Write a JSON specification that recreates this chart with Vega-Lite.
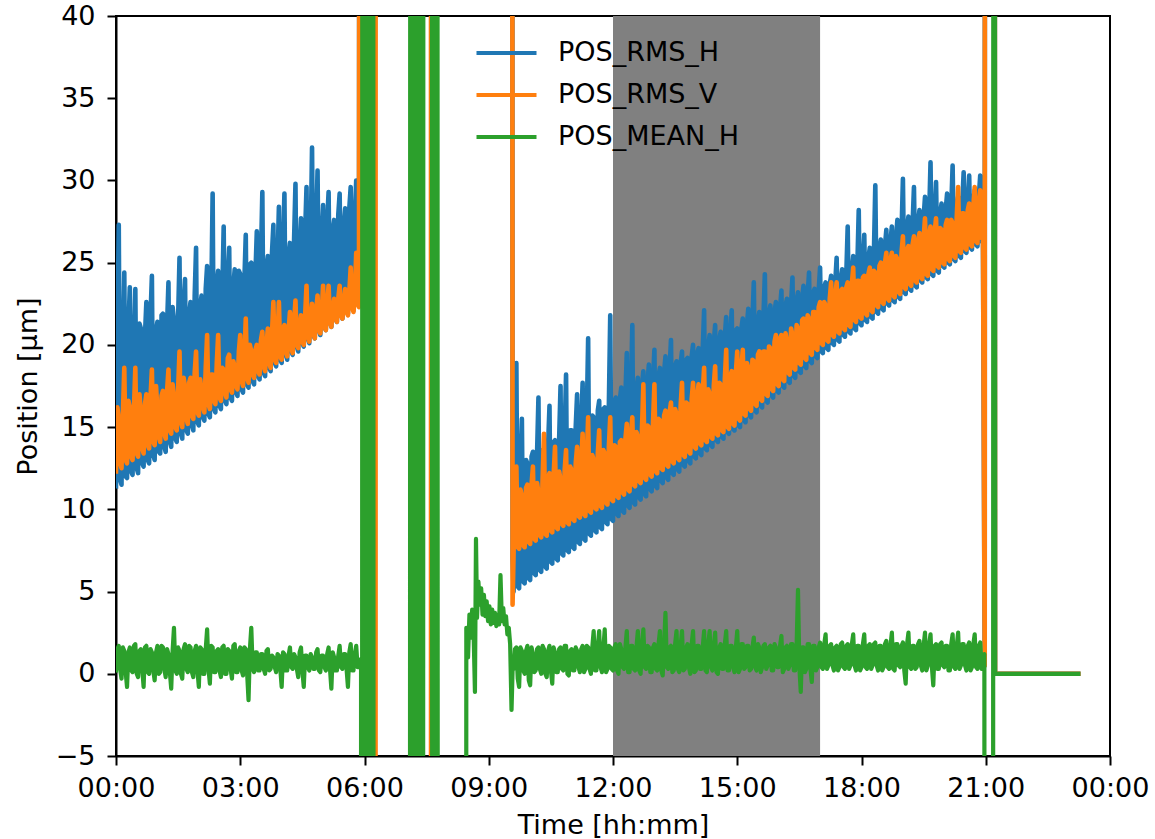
{
"$schema": "https://vega.github.io/schema/vega-lite/v6.json",
"width": 994, "height": 740,
"autosize": {"type": "none"},
"padding": {"left": 116, "top": 16, "right": 45, "bottom": 83},
"background": "white",
"config": {
  "view": {"stroke": "black", "strokeWidth": 2},
  "font": "DejaVu Sans",
  "axis": {"domainColor": "black", "domainWidth": 2, "tickColor": "black", "tickWidth": 2, "tickSize": 9, "labelFont": "DejaVu Sans", "labelFontSize": 27, "labelColor": "black", "titleFont": "DejaVu Sans", "titleFontSize": 27, "titleFontWeight": "normal", "titleColor": "black", "grid": false},
  "legend": {"labelFont": "DejaVu Sans", "labelFontSize": 27, "labelColor": "black", "labelLimit": 400}
},
"datasets": {
"band": [{"start": 720, "end": 1020}],
"series": [
{"t":0,"H":11.4,"V":12.3,"M":0.2},{"t":4,"H":27.3,"V":15.5,"M":1.7},{"t":8,"H":11.5,"V":12.5,"M":-0.3},{"t":12,"H":24.4,"V":18.6,"M":1.4},
{"t":16,"H":11.9,"V":12.8,"M":-0.8},{"t":20,"H":23.5,"V":16.2,"M":1.6},{"t":24,"H":12.1,"V":13.0,"M":0.1},{"t":28,"H":23.4,"V":18.6,"M":1.8},
{"t":32,"H":12.2,"V":13.2,"M":-0.2},{"t":36,"H":21.0,"V":15.9,"M":1.5},{"t":40,"H":12.6,"V":13.4,"M":-0.8},{"t":44,"H":22.6,"V":17.0,"M":1.7},
{"t":48,"H":12.8,"V":13.7,"M":0.0},{"t":52,"H":24.2,"V":18.5,"M":1.3},{"t":56,"H":13.0,"V":13.9,"M":-0.4},{"t":60,"H":21.4,"V":16.0,"M":1.7},
{"t":64,"H":13.4,"V":14.1,"M":0.1},{"t":68,"H":21.9,"V":17.2,"M":1.6},{"t":72,"H":13.5,"V":14.3,"M":-0.2},{"t":76,"H":23.8,"V":18.5,"M":1.2},
{"t":80,"H":13.8,"V":14.6,"M":-0.9},{"t":84,"H":21.5,"V":16.8,"M":2.8},{"t":88,"H":14.1,"V":14.8,"M":0.0},{"t":92,"H":25.3,"V":19.6,"M":1.4},
{"t":96,"H":14.3,"V":15.0,"M":-0.3},{"t":100,"H":24.0,"V":17.4,"M":1.8},{"t":104,"H":14.6,"V":15.2,"M":0.1},{"t":108,"H":22.6,"V":18.0,"M":1.6},
{"t":112,"H":14.8,"V":15.5,"M":-0.2},{"t":116,"H":25.9,"V":19.6,"M":1.7},{"t":120,"H":15.1,"V":15.7,"M":-0.8},{"t":124,"H":23.0,"V":17.1,"M":1.5},
{"t":128,"H":15.4,"V":15.9,"M":0.0},{"t":132,"H":24.8,"V":20.6,"M":2.7},{"t":136,"H":15.6,"V":16.1,"M":-0.6},{"t":140,"H":29.2,"V":18.2,"M":1.6},
{"t":144,"H":15.9,"V":16.4,"M":0.1},{"t":148,"H":24.5,"V":20.6,"M":1.5},{"t":152,"H":16.1,"V":16.6,"M":-0.2},{"t":156,"H":27.2,"V":18.5,"M":1.7},
{"t":160,"H":16.4,"V":16.8,"M":0.0},{"t":164,"H":25.9,"V":19.4,"M":1.4},{"t":168,"H":16.6,"V":17.1,"M":-0.3},{"t":172,"H":24.6,"V":18.6,"M":1.8},
{"t":176,"H":16.9,"V":17.3,"M":0.1},{"t":180,"H":24.3,"V":20.6,"M":1.6},{"t":184,"H":17.1,"V":17.5,"M":-0.1},{"t":188,"H":26.7,"V":21.6,"M":1.5},
{"t":192,"H":17.4,"V":17.7,"M":-1.6},{"t":196,"H":25.0,"V":19.6,"M":2.8},{"t":200,"H":17.6,"V":18.0,"M":0.1},{"t":204,"H":26.9,"V":20.0,"M":1.3},
{"t":208,"H":17.9,"V":18.2,"M":0.2},{"t":212,"H":29.3,"V":20.8,"M":1.2},{"t":216,"H":18.1,"V":18.4,"M":0.0},{"t":220,"H":25.4,"V":21.0,"M":1.5},
{"t":224,"H":18.4,"V":18.6,"M":0.3},{"t":228,"H":27.3,"V":22.6,"M":1.0},{"t":232,"H":18.7,"V":18.9,"M":0.1},{"t":236,"H":28.4,"V":22.6,"M":1.1},
{"t":240,"H":18.9,"V":19.1,"M":-0.8},{"t":244,"H":29.2,"V":21.2,"M":1.2},{"t":248,"H":19.1,"V":19.3,"M":0.2},{"t":252,"H":26.2,"V":22.0,"M":1.6},
{"t":256,"H":19.4,"V":19.5,"M":0.3},{"t":260,"H":29.8,"V":22.7,"M":1.0},{"t":264,"H":19.6,"V":19.8,"M":-0.2},{"t":268,"H":27.7,"V":21.8,"M":1.6},
{"t":272,"H":19.9,"V":20.0,"M":-0.8},{"t":276,"H":29.6,"V":23.6,"M":1.1},{"t":280,"H":20.1,"V":20.2,"M":0.2},{"t":284,"H":32.0,"V":22.5,"M":1.0},
{"t":288,"H":20.4,"V":20.4,"M":0.3},{"t":292,"H":30.6,"V":23.0,"M":1.5},{"t":296,"H":20.6,"V":20.7,"M":0.1},{"t":300,"H":28.5,"V":23.6,"M":1.1},
{"t":304,"H":20.9,"V":20.9,"M":0.2},{"t":308,"H":29.3,"V":23.6,"M":1.6},{"t":312,"H":21.1,"V":21.1,"M":-0.9},{"t":316,"H":27.6,"V":22.8,"M":1.0},
{"t":320,"H":21.4,"V":21.4,"M":0.2},{"t":324,"H":29.2,"V":23.6,"M":1.7},{"t":328,"H":21.6,"V":21.6,"M":0.3},{"t":332,"H":28.3,"V":23.4,"M":1.2},
{"t":336,"H":21.9,"V":21.8,"M":-0.8},{"t":340,"H":29.6,"V":24.7,"M":1.8},{"t":344,"H":22.1,"V":22.0,"M":0.2},{"t":348,"H":30.0,"V":25.6,"M":1.7},
{"t":352,"H":22.4,"V":22.3,"M":0.4},
{"t":2,"H":20.5,"V":16.2,"M":1.5},{"t":10,"H":19.8,"V":15.8,"M":1.6},{"t":18,"H":21.0,"V":16.6,"M":1.3},{"t":26,"H":20.2,"V":16.1,"M":1.7},
{"t":34,"H":21.3,"V":17.0,"M":1.4},{"t":42,"H":20.6,"V":16.4,"M":1.6},{"t":50,"H":21.7,"V":16.8,"M":1.5},{"t":58,"H":20.9,"V":17.5,"M":1.3},
{"t":66,"H":21.8,"V":16.9,"M":1.7},{"t":74,"H":21.2,"V":17.2,"M":1.5},{"t":82,"H":22.3,"V":17.6,"M":1.4},{"t":90,"H":21.6,"V":17.3,"M":1.6},
{"t":98,"H":22.6,"V":18.0,"M":1.5},{"t":106,"H":21.9,"V":17.7,"M":1.7},{"t":114,"H":23.0,"V":18.3,"M":1.4},{"t":122,"H":22.4,"V":17.9,"M":1.6},
{"t":130,"H":23.4,"V":18.6,"M":1.5},{"t":138,"H":22.7,"V":18.2,"M":1.7},{"t":146,"H":23.8,"V":18.9,"M":1.4},{"t":154,"H":23.1,"V":18.6,"M":1.6},
{"t":162,"H":24.2,"V":19.2,"M":1.5},{"t":170,"H":23.6,"V":19.0,"M":1.7},{"t":178,"H":24.5,"V":19.6,"M":1.4},{"t":186,"H":23.9,"V":19.3,"M":1.6},
{"t":194,"H":24.9,"V":20.0,"M":1.5},{"t":202,"H":24.3,"V":19.7,"M":1.3},{"t":210,"H":25.3,"V":20.3,"M":1.2},{"t":218,"H":24.7,"V":20.0,"M":1.4},
{"t":226,"H":25.6,"V":20.7,"M":1.1},{"t":234,"H":25.0,"V":20.4,"M":1.2},{"t":242,"H":26.0,"V":21.0,"M":1.3},{"t":250,"H":25.4,"V":20.8,"M":1.1},
{"t":258,"H":26.4,"V":21.4,"M":1.2},{"t":266,"H":25.8,"V":21.1,"M":1.3},{"t":274,"H":26.8,"V":21.8,"M":1.1},{"t":282,"H":26.2,"V":21.5,"M":1.2},
{"t":290,"H":27.2,"V":22.1,"M":1.3},{"t":298,"H":26.6,"V":21.9,"M":1.1},{"t":306,"H":27.5,"V":22.5,"M":1.2},{"t":314,"H":27.0,"V":22.2,"M":1.3},
{"t":322,"H":27.9,"V":22.8,"M":1.1},{"t":330,"H":27.3,"V":22.6,"M":1.2},{"t":338,"H":28.3,"V":23.2,"M":1.3},{"t":346,"H":27.7,"V":23.0,"M":1.2},
{"t":6,"H":11.8,"V":12.8,"M":0.3},{"t":14,"H":12.0,"V":13.0,"M":0.1},{"t":22,"H":12.3,"V":13.2,"M":0.2},{"t":30,"H":12.5,"V":13.4,"M":0.0},
{"t":38,"H":12.8,"V":13.7,"M":0.3},{"t":46,"H":13.0,"V":13.9,"M":0.1},{"t":54,"H":13.3,"V":14.1,"M":0.2},{"t":62,"H":13.5,"V":14.4,"M":0.0},
{"t":70,"H":13.8,"V":14.6,"M":0.3},{"t":78,"H":14.1,"V":14.8,"M":0.1},{"t":86,"H":14.3,"V":15.0,"M":0.2},{"t":94,"H":14.6,"V":15.3,"M":0.0},
{"t":102,"H":14.8,"V":15.5,"M":0.3},{"t":110,"H":15.1,"V":15.7,"M":0.1},{"t":118,"H":15.3,"V":15.9,"M":0.2},{"t":126,"H":15.6,"V":16.2,"M":0.0},
{"t":134,"H":15.8,"V":16.4,"M":0.3},{"t":142,"H":16.1,"V":16.6,"M":0.1},{"t":150,"H":16.3,"V":16.8,"M":0.2},{"t":158,"H":16.6,"V":17.1,"M":0.0},
{"t":166,"H":16.8,"V":17.3,"M":0.3},{"t":174,"H":17.1,"V":17.5,"M":0.1},{"t":182,"H":17.3,"V":17.8,"M":0.2},{"t":190,"H":17.6,"V":18.0,"M":0.0},
{"t":198,"H":17.8,"V":18.2,"M":0.3},{"t":206,"H":18.1,"V":18.4,"M":0.2},{"t":214,"H":18.3,"V":18.7,"M":0.3},{"t":222,"H":18.6,"V":18.9,"M":0.2},
{"t":230,"H":18.9,"V":19.1,"M":0.4},{"t":238,"H":19.1,"V":19.3,"M":0.3},{"t":246,"H":19.4,"V":19.6,"M":0.2},{"t":254,"H":19.6,"V":19.8,"M":0.4},
{"t":262,"H":19.9,"V":20.0,"M":0.3},{"t":270,"H":20.1,"V":20.2,"M":0.2},{"t":278,"H":20.4,"V":20.5,"M":0.4},{"t":286,"H":20.6,"V":20.7,"M":0.3},
{"t":294,"H":20.9,"V":20.9,"M":0.2},{"t":302,"H":21.1,"V":21.1,"M":0.4},{"t":310,"H":21.4,"V":21.4,"M":0.3},{"t":318,"H":21.6,"V":21.6,"M":0.2},
{"t":326,"H":21.9,"V":21.8,"M":0.4},{"t":334,"H":22.1,"V":22.0,"M":0.3},{"t":342,"H":22.4,"V":22.3,"M":0.2},{"t":350,"H":22.6,"V":22.5,"M":0.4},
{"t":354.5,"H":200,"V":200},{"t":355,"M":0.9},{"t":355.6,"M":-200},{"t":357.6,"M":200},{"t":359.6,"M":-200},{"t":361.6,"M":200},{"t":363.6,"M":-200},
{"t":368,"M":200},{"t":370,"M":-200},{"t":372,"M":200},{"t":374,"M":-200},
{"t":374.5,"V":200},{"t":375.5,"V":-200},{"t":376.5,"V":200},
{"t":425,"M":-200},{"t":427,"M":200},{"t":429,"M":-200},{"t":431,"M":200},{"t":433,"M":-200},{"t":436,"M":-200},{"t":438,"M":200},{"t":440,"M":-200},{"t":442,"M":200},{"t":444,"M":-200},{"t":446,"M":200},
{"t":433.8,"V":200},{"t":434.6,"V":-200},{"t":435.4,"V":200},
{"t":456,"V":200},{"t":456.8,"V":-200},{"t":457.6,"V":200},
{"t":457,"M":200},{"t":459,"M":-200},{"t":461,"M":200},{"t":463,"M":-200},{"t":465,"M":200},{"t":467,"M":-200},
{"t":506,"M":-200},{"t":507.5,"M":2.8},{"t":510,"M":1.0},{"t":512,"M":3.6},{"t":514,"M":2.2},{"t":516,"M":3.9},{"t":518,"M":2.6},{"t":520,"M":-1.1},
{"t":521.5,"M":8.2},{"t":523,"M":3.4},{"t":525,"M":5.6},{"t":527,"M":4.2},{"t":529,"M":5.2},{"t":531,"M":3.6},{"t":533,"M":4.8},{"t":535,"M":3.5},
{"t":537,"M":4.4},{"t":539,"M":3.2},{"t":541,"M":4.1},{"t":543,"M":3.0},{"t":545,"M":3.9},{"t":547,"M":3.1},{"t":549,"M":3.7},{"t":551,"M":2.9},
{"t":553,"M":3.6},{"t":555,"M":3.0},{"t":557,"M":6.0},{"t":559,"M":3.2},{"t":561,"M":4.0},{"t":563,"M":3.0},{"t":565,"M":3.5},{"t":567,"M":2.4},
{"t":569,"M":2.8},{"t":571,"M":1.8},{"t":573,"H":200,"V":200,"M":-2.2},{"t":574.5,"H":7.0,"V":4.2},{"t":575,"M":1.0},
{"t":576,"H":5.0,"V":7.4,"M":0.3},{"t":580,"H":18.9,"V":12.6,"M":1.6},{"t":584,"H":5.2,"V":7.6,"M":-0.8},{"t":588,"H":15.5,"V":10.8,"M":1.4},
{"t":592,"H":5.5,"V":7.7,"M":0.0},{"t":596,"H":12.8,"V":11.5,"M":1.7},{"t":600,"H":5.7,"V":7.9,"M":-0.7},{"t":604,"H":13.5,"V":12.6,"M":1.2},
{"t":608,"H":6.0,"V":8.1,"M":0.2},{"t":612,"H":16.8,"V":11.0,"M":1.6},{"t":616,"H":6.2,"V":8.3,"M":0.0},{"t":620,"H":13.6,"V":14.6,"M":1.5},
{"t":624,"H":6.4,"V":8.4,"M":-0.2},{"t":628,"H":16.3,"V":12.2,"M":1.7},{"t":632,"H":6.7,"V":8.6,"M":-0.6},{"t":636,"H":14.2,"V":13.8,"M":1.3},
{"t":640,"H":6.9,"V":8.8,"M":0.1},{"t":644,"H":17.5,"V":11.8,"M":1.6},{"t":648,"H":7.2,"V":9.0,"M":0.2},{"t":652,"H":18.2,"V":13.6,"M":1.7},
{"t":656,"H":7.4,"V":9.1,"M":-0.1},{"t":660,"H":14.8,"V":12.4,"M":1.5},{"t":664,"H":7.6,"V":9.3,"M":0.2},{"t":668,"H":17.0,"V":13.8,"M":1.4},
{"t":672,"H":7.9,"V":9.5,"M":0.1},{"t":676,"H":17.7,"V":14.6,"M":1.7},{"t":680,"H":8.1,"V":9.6,"M":0.3},{"t":684,"H":20.4,"V":15.6,"M":1.6},
{"t":688,"H":8.4,"V":9.8,"M":0.0},{"t":692,"H":15.6,"V":13.0,"M":2.6},{"t":696,"H":8.6,"V":10.0,"M":0.2},{"t":700,"H":16.6,"V":14.8,"M":2.6},
{"t":704,"H":8.8,"V":10.1,"M":0.1},{"t":708,"H":16.2,"V":13.4,"M":2.7},{"t":712,"H":9.1,"V":10.3,"M":0.3},{"t":716,"H":21.8,"V":15.6,"M":1.6},
{"t":720,"H":9.3,"V":10.5,"M":0.2},{"t":724,"H":16.8,"V":13.8,"M":1.8},{"t":728,"H":9.6,"V":10.7,"M":0.0},{"t":732,"H":17.4,"V":14.2,"M":1.5},
{"t":736,"H":9.8,"V":10.9,"M":0.3},{"t":740,"H":19.5,"V":15.2,"M":2.6},{"t":744,"H":10.1,"V":11.1,"M":0.1},{"t":748,"H":21.2,"V":15.6,"M":1.7},
{"t":752,"H":10.3,"V":11.4,"M":0.2},{"t":756,"H":18.0,"V":14.4,"M":2.6},{"t":760,"H":10.6,"V":11.6,"M":0.0},{"t":764,"H":18.4,"V":17.6,"M":2.7},
{"t":768,"H":10.8,"V":11.8,"M":0.3},{"t":772,"H":18.8,"V":15.0,"M":1.6},{"t":776,"H":11.1,"V":12.0,"M":0.1},{"t":780,"H":19.7,"V":17.6,"M":1.8},
{"t":784,"H":11.3,"V":12.2,"M":0.2},{"t":788,"H":18.6,"V":15.4,"M":2.6},{"t":792,"H":11.6,"V":12.4,"M":-0.1},{"t":796,"H":19.3,"V":16.0,"M":3.7},
{"t":800,"H":11.8,"V":12.6,"M":0.3},{"t":804,"H":20.3,"V":16.5,"M":1.7},{"t":808,"H":12.1,"V":12.8,"M":0.2},{"t":812,"H":19.0,"V":15.8,"M":2.6},
{"t":816,"H":12.3,"V":13.0,"M":0.1},{"t":820,"H":19.6,"V":17.7,"M":2.6},{"t":824,"H":12.6,"V":13.2,"M":0.3},{"t":828,"H":19.2,"V":16.4,"M":1.8},
{"t":832,"H":12.8,"V":13.4,"M":0.0},{"t":836,"H":20.0,"V":17.7,"M":2.6},{"t":840,"H":13.1,"V":13.7,"M":0.2},{"t":844,"H":19.8,"V":17.6,"M":1.7},
{"t":848,"H":13.3,"V":13.9,"M":0.3},{"t":852,"H":22.1,"V":18.6,"M":2.6},{"t":856,"H":13.6,"V":14.1,"M":0.1},{"t":860,"H":20.6,"V":17.0,"M":2.6},
{"t":864,"H":13.8,"V":14.3,"M":0.2},{"t":868,"H":21.2,"V":18.7,"M":2.5},{"t":872,"H":14.1,"V":14.5,"M":0.0},{"t":876,"H":20.8,"V":17.6,"M":1.8},
{"t":880,"H":14.3,"V":14.7,"M":0.3},{"t":884,"H":21.7,"V":19.7,"M":2.6},{"t":888,"H":14.6,"V":14.9,"M":0.2},{"t":892,"H":22.1,"V":18.4,"M":1.7},
{"t":896,"H":14.8,"V":15.1,"M":0.1},{"t":900,"H":21.0,"V":19.6,"M":2.6},{"t":904,"H":15.0,"V":15.4,"M":0.3},{"t":908,"H":21.6,"V":19.7,"M":1.8},
{"t":912,"H":15.3,"V":15.7,"M":0.4},{"t":916,"H":22.2,"V":18.6,"M":1.7},{"t":920,"H":15.6,"V":16.0,"M":0.3},{"t":924,"H":23.8,"V":19.0,"M":2.2},
{"t":928,"H":15.9,"V":16.3,"M":0.2},{"t":932,"H":22.0,"V":19.6,"M":1.6},{"t":936,"H":16.2,"V":16.6,"M":0.4},{"t":940,"H":24.3,"V":19.6,"M":1.8},
{"t":944,"H":16.5,"V":16.9,"M":0.5},{"t":948,"H":22.4,"V":19.8,"M":1.7},{"t":952,"H":16.8,"V":17.2,"M":0.2},{"t":956,"H":22.6,"V":20.6,"M":1.6},
{"t":960,"H":17.1,"V":17.5,"M":0.4},{"t":964,"H":23.3,"V":20.6,"M":2.3},{"t":968,"H":17.4,"V":17.8,"M":0.3},{"t":972,"H":22.8,"V":20.2,"M":1.7},
{"t":976,"H":17.7,"V":18.2,"M":0.5},{"t":980,"H":24.1,"V":20.6,"M":1.8},{"t":984,"H":18.0,"V":18.5,"M":0.2},{"t":988,"H":23.2,"V":21.0,"M":5.1},
{"t":992,"H":18.3,"V":18.8,"M":-1.1},{"t":996,"H":23.6,"V":21.6,"M":1.6},{"t":1000,"H":18.6,"V":19.1,"M":0.3},{"t":1004,"H":24.4,"V":21.6,"M":1.8},
{"t":1008,"H":18.9,"V":19.4,"M":-0.5},{"t":1012,"H":23.4,"V":22.0,"M":1.7},{"t":1016,"H":19.2,"V":19.7,"M":0.4},{"t":1020,"H":24.7,"V":22.6,"M":1.9},
{"t":1024,"H":19.5,"V":20.0,"M":0.3},{"t":1028,"H":23.8,"V":22.4,"M":2.4},{"t":1032,"H":19.7,"V":20.2,"M":0.5},{"t":1036,"H":24.2,"V":23.8,"M":1.8},
{"t":1040,"H":20.0,"V":20.5,"M":0.2},{"t":1044,"H":25.3,"V":23.8,"M":1.7},{"t":1048,"H":20.2,"V":20.7,"M":0.4},{"t":1052,"H":24.6,"V":23.4,"M":1.9},
{"t":1056,"H":20.5,"V":20.9,"M":0.3},{"t":1060,"H":27.2,"V":23.8,"M":1.8},{"t":1064,"H":20.7,"V":21.1,"M":0.5},{"t":1068,"H":25.4,"V":24.7,"M":2.4},
{"t":1072,"H":20.9,"V":21.4,"M":0.2},{"t":1076,"H":28.2,"V":23.9,"M":1.7},{"t":1080,"H":21.2,"V":21.6,"M":0.4},{"t":1084,"H":26.7,"V":24.2,"M":2.4},
{"t":1088,"H":21.4,"V":21.8,"M":0.3},{"t":1092,"H":25.9,"V":24.7,"M":1.8},{"t":1096,"H":21.6,"V":22.0,"M":0.5},{"t":1100,"H":29.7,"V":24.4,"M":1.9},
{"t":1104,"H":21.9,"V":22.3,"M":0.2},{"t":1108,"H":26.4,"V":25.0,"M":1.7},{"t":1112,"H":22.1,"V":22.5,"M":0.4},{"t":1116,"H":27.0,"V":25.6,"M":2.0},
{"t":1120,"H":22.4,"V":22.7,"M":0.3},{"t":1124,"H":27.2,"V":25.6,"M":2.5},{"t":1128,"H":22.6,"V":22.9,"M":0.2},{"t":1132,"H":27.6,"V":25.2,"M":1.8},
{"t":1136,"H":22.8,"V":23.1,"M":0.4},{"t":1140,"H":30.1,"V":26.6,"M":1.9},{"t":1144,"H":23.1,"V":23.4,"M":-0.6},{"t":1148,"H":27.8,"V":26.0,"M":2.5},
{"t":1152,"H":23.3,"V":23.6,"M":0.3},{"t":1156,"H":29.6,"V":26.6,"M":1.7},{"t":1160,"H":23.5,"V":23.8,"M":0.4},{"t":1164,"H":28.2,"V":26.8,"M":2.0},
{"t":1168,"H":23.8,"V":24.0,"M":0.2},{"t":1172,"H":29.0,"V":27.7,"M":2.5},{"t":1176,"H":24.0,"V":24.2,"M":0.5},{"t":1180,"H":31.1,"V":27.2,"M":2.4},
{"t":1184,"H":24.2,"V":24.5,"M":-0.7},{"t":1188,"H":29.9,"V":27.7,"M":1.8},{"t":1192,"H":24.4,"V":24.7,"M":0.3},{"t":1196,"H":28.6,"V":27.0,"M":1.9},
{"t":1200,"H":24.7,"V":24.9,"M":0.4},{"t":1204,"H":29.2,"V":27.6,"M":1.7},{"t":1208,"H":24.9,"V":25.1,"M":0.2},{"t":1212,"H":30.9,"V":27.4,"M":2.4},
{"t":1216,"H":25.1,"V":25.3,"M":0.3},{"t":1220,"H":29.0,"V":29.6,"M":2.5},{"t":1224,"H":25.3,"V":25.6,"M":0.5},{"t":1228,"H":30.5,"V":28.0,"M":1.8},
{"t":1232,"H":25.6,"V":25.8,"M":0.2},{"t":1236,"H":30.3,"V":28.6,"M":1.9},{"t":1240,"H":25.8,"V":26.0,"M":0.4},{"t":1244,"H":29.4,"V":29.6,"M":2.4},
{"t":1248,"H":26.0,"V":26.2,"M":0.3},{"t":1252,"H":30.3,"V":29.4,"M":1.9},{"t":1256,"H":26.2,"V":26.4,"M":0.6},
{"t":578,"H":12.5,"V":11.0,"M":1.5},{"t":586,"H":12.7,"V":11.2,"M":1.6},{"t":594,"H":13.0,"V":11.3,"M":1.4},{"t":602,"H":13.2,"V":11.5,"M":1.6},
{"t":610,"H":13.4,"V":11.6,"M":1.5},{"t":618,"H":13.6,"V":11.8,"M":1.7},{"t":626,"H":13.9,"V":11.9,"M":1.4},{"t":634,"H":14.1,"V":12.1,"M":1.6},
{"t":642,"H":14.3,"V":12.3,"M":1.5},{"t":650,"H":14.6,"V":12.4,"M":1.7},{"t":658,"H":14.8,"V":12.6,"M":1.4},{"t":666,"H":15.0,"V":12.8,"M":1.6},
{"t":674,"H":15.3,"V":12.9,"M":1.5},{"t":682,"H":15.5,"V":13.1,"M":1.7},{"t":690,"H":15.7,"V":13.3,"M":1.6},{"t":698,"H":16.0,"V":13.4,"M":1.7},
{"t":706,"H":16.1,"V":13.6,"M":1.5},{"t":714,"H":16.3,"V":13.8,"M":1.7},{"t":722,"H":16.5,"V":13.9,"M":1.6},{"t":730,"H":16.7,"V":14.1,"M":1.8},
{"t":738,"H":16.9,"V":14.3,"M":1.6},{"t":746,"H":17.1,"V":14.5,"M":1.7},{"t":754,"H":17.3,"V":14.7,"M":1.6},{"t":762,"H":17.5,"V":14.9,"M":1.8},
{"t":770,"H":17.7,"V":15.1,"M":1.7},{"t":778,"H":17.9,"V":15.3,"M":1.6},{"t":786,"H":18.1,"V":15.5,"M":1.8},{"t":794,"H":18.3,"V":15.7,"M":1.7},
{"t":802,"H":18.5,"V":15.9,"M":1.6},{"t":810,"H":18.7,"V":16.1,"M":1.8},{"t":818,"H":18.9,"V":16.3,"M":1.7},{"t":826,"H":19.1,"V":16.5,"M":1.6},
{"t":834,"H":19.3,"V":16.7,"M":1.8},{"t":842,"H":19.5,"V":16.9,"M":1.7},{"t":850,"H":19.7,"V":17.1,"M":1.6},{"t":858,"H":19.9,"V":17.3,"M":1.8},
{"t":866,"H":20.1,"V":17.5,"M":1.7},{"t":874,"H":20.3,"V":17.7,"M":1.6},{"t":882,"H":20.5,"V":17.9,"M":1.8},{"t":890,"H":20.7,"V":18.1,"M":1.7},
{"t":898,"H":20.9,"V":18.3,"M":1.6},{"t":906,"H":21.0,"V":18.6,"M":1.8},{"t":914,"H":21.2,"V":18.9,"M":1.7},{"t":922,"H":21.4,"V":19.1,"M":1.6},
{"t":930,"H":21.5,"V":19.4,"M":1.8},{"t":938,"H":21.7,"V":19.6,"M":1.7},{"t":946,"H":21.9,"V":19.9,"M":1.6},{"t":954,"H":22.0,"V":20.2,"M":1.8},
{"t":962,"H":22.2,"V":20.4,"M":1.7},{"t":970,"H":22.4,"V":20.7,"M":1.6},{"t":978,"H":22.5,"V":21.0,"M":1.8},{"t":986,"H":22.7,"V":21.2,"M":1.7},
{"t":994,"H":22.8,"V":21.5,"M":1.6},{"t":1002,"H":23.0,"V":21.8,"M":1.8},{"t":1010,"H":23.2,"V":22.0,"M":1.7},{"t":1018,"H":23.3,"V":22.3,"M":1.6},
{"t":1026,"H":23.5,"V":22.6,"M":1.8},{"t":1034,"H":23.7,"V":22.8,"M":1.7},{"t":1042,"H":23.8,"V":23.0,"M":1.6},{"t":1050,"H":24.0,"V":23.3,"M":1.8},
{"t":1058,"H":24.3,"V":23.5,"M":1.7},{"t":1066,"H":24.5,"V":23.7,"M":1.8},{"t":1074,"H":24.8,"V":23.9,"M":1.7},{"t":1082,"H":25.0,"V":24.1,"M":1.8},
{"t":1090,"H":25.3,"V":24.3,"M":1.7},{"t":1098,"H":25.6,"V":24.5,"M":1.8},{"t":1106,"H":25.8,"V":24.8,"M":1.7},{"t":1114,"H":26.0,"V":25.0,"M":1.8},
{"t":1122,"H":26.3,"V":25.2,"M":1.7},{"t":1130,"H":26.5,"V":25.4,"M":1.8},{"t":1138,"H":26.8,"V":25.6,"M":1.7},{"t":1146,"H":27.1,"V":25.8,"M":1.8},
{"t":1154,"H":27.3,"V":26.1,"M":1.7},{"t":1162,"H":27.5,"V":26.3,"M":1.8},{"t":1170,"H":27.7,"V":26.5,"M":1.7},{"t":1178,"H":27.8,"V":26.7,"M":1.8},
{"t":1186,"H":27.9,"V":26.9,"M":1.7},{"t":1194,"H":28.0,"V":27.1,"M":1.8},{"t":1202,"H":28.2,"V":27.3,"M":1.7},{"t":1210,"H":28.3,"V":27.6,"M":1.8},
{"t":1218,"H":28.4,"V":27.8,"M":1.7},{"t":1226,"H":28.6,"V":28.0,"M":1.8},{"t":1234,"H":28.7,"V":28.2,"M":1.7},{"t":1242,"H":28.8,"V":28.4,"M":1.8},
{"t":1250,"H":29.0,"V":28.6,"M":1.7},
{"t":582,"H":5.3,"V":7.7,"M":-0.3},{"t":590,"H":5.6,"V":7.8,"M":0.2},{"t":598,"H":5.8,"V":8.0,"M":-0.4},{"t":606,"H":6.1,"V":8.2,"M":0.1},
{"t":614,"H":6.3,"V":8.4,"M":0.3},{"t":622,"H":6.5,"V":8.5,"M":0.0},{"t":630,"H":6.8,"V":8.7,"M":0.2},{"t":638,"H":7.0,"V":8.9,"M":0.1},
{"t":646,"H":7.3,"V":9.1,"M":0.3},{"t":654,"H":7.5,"V":9.2,"M":0.0},{"t":662,"H":7.7,"V":9.4,"M":0.2},{"t":670,"H":8.0,"V":9.6,"M":0.4},
{"t":678,"H":8.2,"V":9.7,"M":0.1},{"t":686,"H":8.5,"V":9.9,"M":0.3},{"t":694,"H":8.7,"V":10.1,"M":0.2},{"t":702,"H":8.9,"V":10.2,"M":0.4},
{"t":710,"H":9.2,"V":10.4,"M":0.1},{"t":718,"H":9.4,"V":10.6,"M":0.3},{"t":726,"H":9.7,"V":10.8,"M":0.2},{"t":734,"H":9.9,"V":11.0,"M":0.4},
{"t":742,"H":10.2,"V":11.2,"M":0.1},{"t":750,"H":10.4,"V":11.5,"M":0.3},{"t":758,"H":10.7,"V":11.7,"M":0.2},{"t":766,"H":10.9,"V":11.9,"M":0.4},
{"t":774,"H":11.2,"V":12.1,"M":0.1},{"t":782,"H":11.4,"V":12.3,"M":0.3},{"t":790,"H":11.7,"V":12.5,"M":0.2},{"t":798,"H":11.9,"V":12.7,"M":0.4},
{"t":806,"H":12.2,"V":12.9,"M":0.1},{"t":814,"H":12.4,"V":13.1,"M":0.3},{"t":822,"H":12.7,"V":13.3,"M":0.2},{"t":830,"H":12.9,"V":13.5,"M":0.4},
{"t":838,"H":13.2,"V":13.8,"M":0.1},{"t":846,"H":13.4,"V":14.0,"M":0.3},{"t":854,"H":13.7,"V":14.2,"M":0.2},{"t":862,"H":13.9,"V":14.4,"M":0.4},
{"t":870,"H":14.2,"V":14.6,"M":0.1},{"t":878,"H":14.4,"V":14.8,"M":0.3},{"t":886,"H":14.7,"V":15.0,"M":0.2},{"t":894,"H":14.9,"V":15.2,"M":0.4},
{"t":902,"H":15.1,"V":15.5,"M":0.1},{"t":910,"H":15.4,"V":15.8,"M":0.3},{"t":918,"H":15.7,"V":16.1,"M":0.2},{"t":926,"H":16.0,"V":16.4,"M":0.4},
{"t":934,"H":16.3,"V":16.7,"M":0.1},{"t":942,"H":16.6,"V":17.0,"M":0.3},{"t":950,"H":16.9,"V":17.3,"M":0.2},{"t":958,"H":17.2,"V":17.6,"M":0.4},
{"t":966,"H":17.5,"V":17.9,"M":0.1},{"t":974,"H":17.8,"V":18.3,"M":0.3},{"t":982,"H":18.1,"V":18.6,"M":0.2},{"t":990,"H":18.4,"V":18.9,"M":0.4},
{"t":998,"H":18.7,"V":19.2,"M":0.1},{"t":1006,"H":19.0,"V":19.5,"M":0.3},{"t":1014,"H":19.3,"V":19.8,"M":0.2},{"t":1022,"H":19.6,"V":20.1,"M":0.4},
{"t":1030,"H":19.8,"V":20.3,"M":0.3},{"t":1038,"H":20.1,"V":20.6,"M":0.5},{"t":1046,"H":20.3,"V":20.8,"M":0.2},{"t":1054,"H":20.6,"V":21.0,"M":0.4},
{"t":1062,"H":20.8,"V":21.2,"M":0.3},{"t":1070,"H":21.0,"V":21.5,"M":0.5},{"t":1078,"H":21.3,"V":21.7,"M":0.2},{"t":1086,"H":21.5,"V":21.9,"M":0.4},
{"t":1094,"H":21.7,"V":22.1,"M":0.3},{"t":1102,"H":22.0,"V":22.4,"M":0.5},{"t":1110,"H":22.2,"V":22.6,"M":0.2},{"t":1118,"H":22.5,"V":22.8,"M":0.4},
{"t":1126,"H":22.7,"V":23.0,"M":0.3},{"t":1134,"H":22.9,"V":23.2,"M":0.5},{"t":1142,"H":23.2,"V":23.5,"M":0.2},{"t":1150,"H":23.4,"V":23.7,"M":0.4},
{"t":1158,"H":23.6,"V":23.9,"M":0.3},{"t":1166,"H":23.9,"V":24.1,"M":0.5},{"t":1174,"H":24.1,"V":24.3,"M":0.2},{"t":1182,"H":24.3,"V":24.6,"M":0.4},
{"t":1190,"H":24.5,"V":24.8,"M":0.3},{"t":1198,"H":24.8,"V":25.0,"M":0.5},{"t":1206,"H":25.0,"V":25.2,"M":0.2},{"t":1214,"H":25.2,"V":25.4,"M":0.4},
{"t":1222,"H":25.4,"V":25.7,"M":0.3},{"t":1230,"H":25.7,"V":25.9,"M":0.5},{"t":1238,"H":25.9,"V":26.1,"M":0.2},{"t":1246,"H":26.1,"V":26.3,"M":0.4},
{"t":1254,"H":26.3,"V":26.5,"M":0.3},
{"t":1258,"M":1.2},{"t":1258.5,"H":0.5,"V":0.5},{"t":1259.5,"H":200,"V":200,"M":-200},{"t":1270,"M":-200},{"t":1271.5,"M":200},
{"t":1272,"H":200,"V":200},{"t":1272.5,"M":200},{"t":1273.5,"H":0,"V":0,"M":0},{"t":1394,"H":0,"V":0,"M":0}
]
},
"layer": [
{
  "data": {"name": "band"},
  "mark": {"type": "rect", "color": "#808080"},
  "encoding": {
    "x": {"field": "start", "type": "quantitative", "scale": {"domain": [0, 1440], "nice": false, "zero": false},
      "axis": {"values": [0,180,360,540,720,900,1080,1260,1440], "labelExpr": "(floor(datum.value/60)%24 < 10 ? '0' : '') + (floor(datum.value/60)%24) + ':00'", "title": "Time [hh:mm]", "labelPadding": 10, "labelFlush": false, "titleY": 77, "titleBaseline": "alphabetic"}},
    "x2": {"field": "end"}
  }
},
{
  "data": {"name": "series"},
  "transform": [{"fold": ["H", "V", "M"], "as": ["series", "value"]}, {"filter": "isValid(datum.value) && datum.series == 'H'"}],
  "mark": {"type": "line", "clip": true, "strokeWidth": 4.6, "strokeJoin": "round", "strokeCap": "square"},
  "encoding": {
    "x": {"field": "t", "type": "quantitative", "scale": {"domain": [0, 1440], "nice": false, "zero": false},
      "axis": {"values": [0,180,360,540,720,900,1080,1260,1440], "labelExpr": "(floor(datum.value/60)%24 < 10 ? '0' : '') + (floor(datum.value/60)%24) + ':00'", "title": "Time [hh:mm]", "labelPadding": 10, "labelFlush": false, "titleY": 77, "titleBaseline": "alphabetic"}},
    "y": {"field": "value", "type": "quantitative", "scale": {"domain": [-5, 40], "nice": false, "zero": false},
      "axis": {"values": [-5,0,5,10,15,20,25,30,35,40], "labelExpr": "datum.value < 0 ? '−' + (-datum.value) : '' + datum.value", "title": "Position [μm]", "labelPadding": 12, "titleX": -80, "titleY": 370, "titleAngle": 270, "titleBaseline": "alphabetic", "titleAlign": "center"}},
    "color": {"field": "series", "type": "nominal", "scale": {"domain": ["H", "V", "M"], "range": ["#1f77b4", "#ff7f0e", "#2ca02c"]},
      "legend": {"title": null, "orient": "none", "legendX": 363, "legendY": 9.5, "symbolType": "M-1.2,0H1.2", "symbolSize": 2500, "symbolStrokeWidth": 4.2, "labelOffset": 24, "rowPadding": 1, "padding": 0, "labelLimit": 400,
        "labelExpr": "datum.label == 'H' ? 'POS_RMS_H' : datum.label == 'V' ? 'POS_RMS_V' : 'POS_MEAN_H'"}}
  }
},
{
  "data": {"name": "series"},
  "transform": [{"fold": ["H", "V", "M"], "as": ["series", "value"]}, {"filter": "isValid(datum.value) && datum.series == 'V'"}],
  "mark": {"type": "line", "clip": true, "strokeWidth": 4.6, "strokeJoin": "round", "strokeCap": "square"},
  "encoding": {
    "x": {"field": "t", "type": "quantitative"},
    "y": {"field": "value", "type": "quantitative"},
    "color": {"field": "series", "type": "nominal"}
  }
},
{
  "data": {"name": "series"},
  "transform": [{"fold": ["H", "V", "M"], "as": ["series", "value"]}, {"filter": "isValid(datum.value) && datum.series == 'M'"}],
  "mark": {"type": "line", "clip": true, "strokeWidth": 4.2, "strokeJoin": "round", "strokeCap": "square"},
  "encoding": {
    "x": {"field": "t", "type": "quantitative"},
    "y": {"field": "value", "type": "quantitative"},
    "color": {"field": "series", "type": "nominal"}
  }
}
]
}
